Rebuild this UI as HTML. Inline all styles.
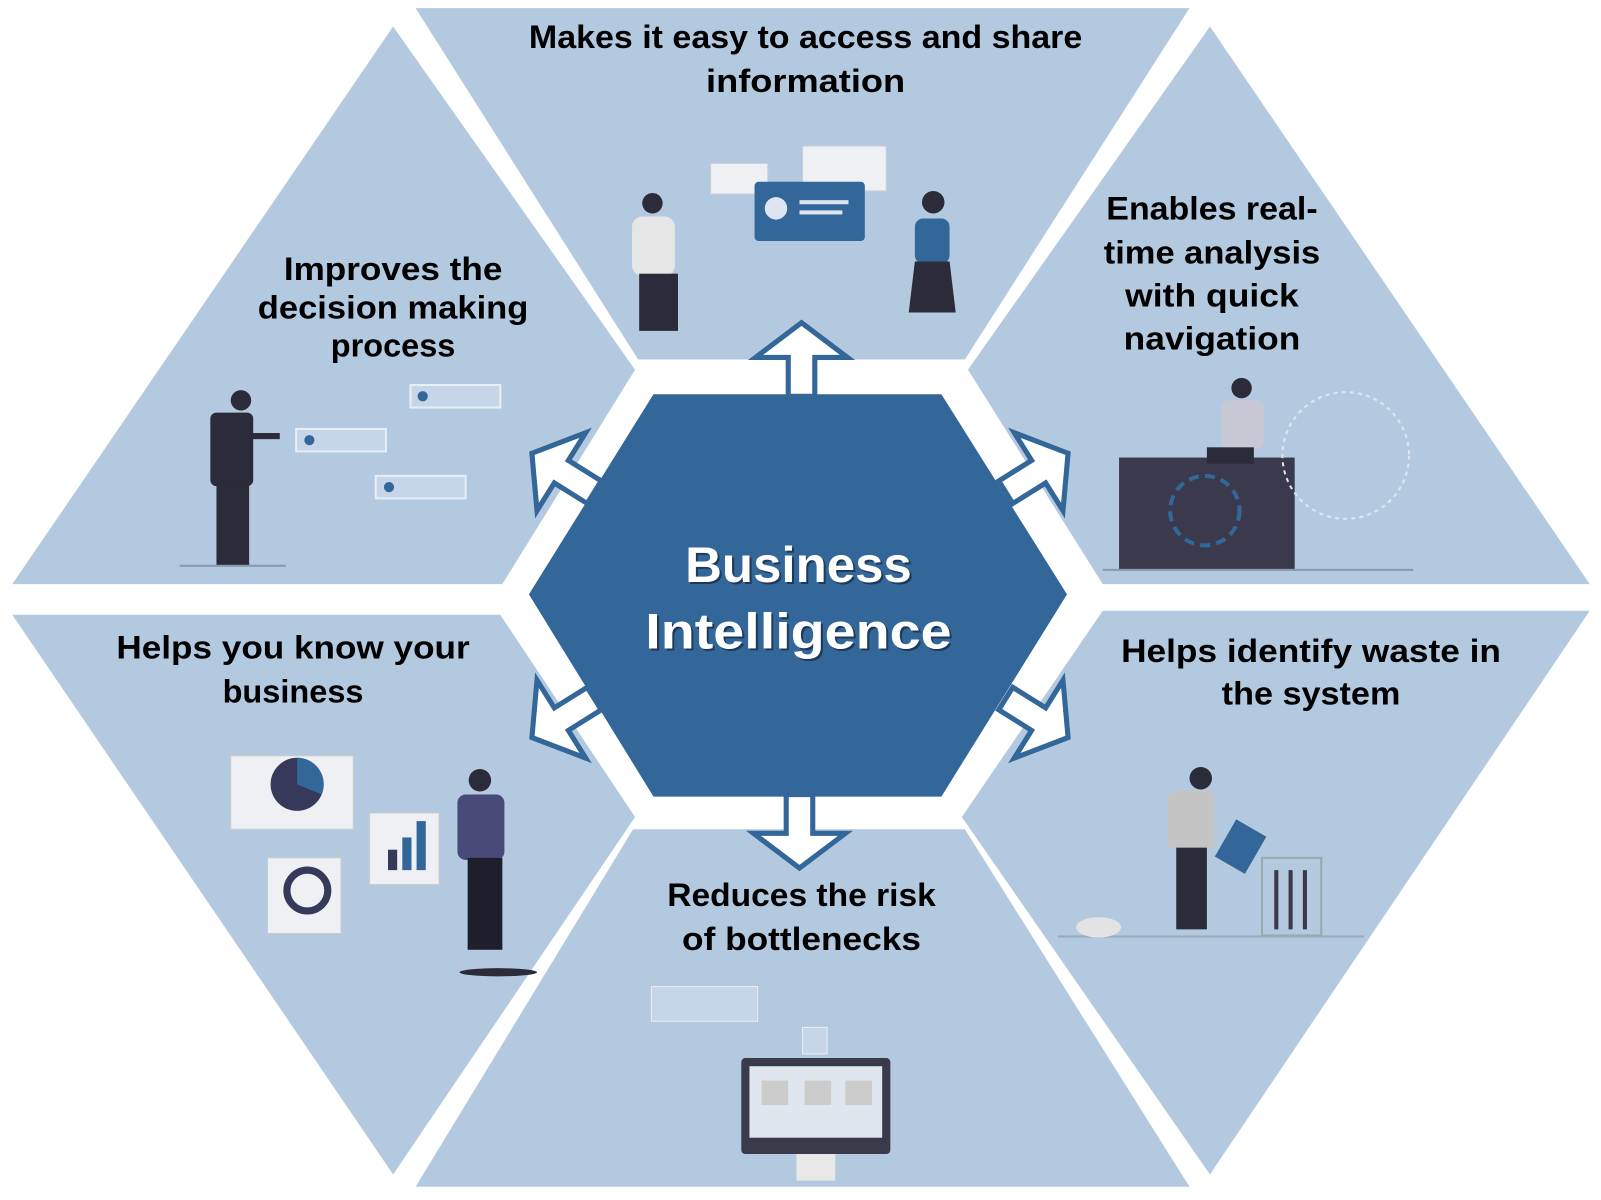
<!DOCTYPE html>
<html><head><meta charset="utf-8"><style>
html,body{margin:0;padding:0;background:#fff;width:1601px;height:1200px;overflow:hidden}
svg{display:block}
.t{font-family:"Liberation Sans",sans-serif;font-weight:bold;font-size:32px;fill:#000;text-anchor:middle}
.c{font-family:"Liberation Sans",sans-serif;font-weight:bold;font-size:49px;fill:#fff;text-anchor:middle}
</style></head><body>
<svg width="1601" height="1200" viewBox="0 0 1568 1175" preserveAspectRatio="none" xmlns="http://www.w3.org/2000/svg">
<defs>
<polygon id="arr" points="-13,0 -13,-38 -45,-38 0,-72 45,-38 13,-38 13,0" fill="#fff" stroke="#336699" stroke-width="5" stroke-linejoin="miter"/>
</defs>
<g fill="#b3c9df">
<polygon points="407,8 1165,8 945,352 625,352"/>
<polygon points="385,26 622,362 492,572 12,572"/>
<polygon points="1185,26 1557,572 1080,572 948,362"/>
<polygon points="12,602 490,602 622,800 385,1150"/>
<polygon points="1080,598 1557,598 1185,1150 942,800"/>
<polygon points="620,812 945,812 1165,1162 407,1162"/>
</g>
<g>
<rect x="696" y="160" width="56" height="30" fill="#eef0f3" stroke="#ccd" />
<rect x="786" y="143" width="82" height="44" fill="#eef0f3" stroke="#ccd"/>
<rect x="739" y="178" width="108" height="58" rx="4" fill="#336699"/>
<circle cx="760" cy="204" r="11" fill="#dde6f0"/>
<rect x="783" y="196" width="48" height="4" fill="#dde6f0"/><rect x="783" y="206" width="42" height="4" fill="#dde6f0"/>
<circle cx="639" cy="199" r="10" fill="#2b2b3a"/>
<rect x="619" y="212" width="42" height="58" rx="10" fill="#e6e6e6"/>
<rect x="626" y="268" width="38" height="56" fill="#2b2b3a"/>
<circle cx="914" cy="198" r="11" fill="#2b2b3a"/>
<rect x="896" y="214" width="34" height="44" rx="8" fill="#336699"/>
<polygon points="896,256 930,256 936,306 890,306" fill="#2b2b3a"/>
<circle cx="236" cy="392" r="10" fill="#2b2b3a"/>
<rect x="206" y="404" width="42" height="72" rx="6" fill="#2b2b3a"/>
<rect x="246" y="424" width="28" height="6" fill="#2b2b3a"/>
<rect x="212" y="474" width="32" height="80" fill="#2b2b3a"/>
<rect x="176" y="553" width="104" height="2" fill="#8899aa"/>
<rect x="290" y="420" width="88" height="22" fill="#c6d6e8" stroke="#e6eef6" stroke-width="2"/>
<rect x="402" y="377" width="88" height="22" fill="#c6d6e8" stroke="#e6eef6" stroke-width="2"/>
<rect x="368" y="466" width="88" height="22" fill="#c6d6e8" stroke="#e6eef6" stroke-width="2"/>
<circle cx="303" cy="431" r="5" fill="#336699"/><circle cx="414" cy="388" r="5" fill="#336699"/><circle cx="381" cy="477" r="5" fill="#336699"/>
<rect x="1096" y="448" width="172" height="110" fill="#3a3a4c"/>
<circle cx="1180" cy="500" r="34" fill="none" stroke="#336699" stroke-width="4" stroke-dasharray="10 6"/>
<circle cx="1318" cy="446" r="62" fill="none" stroke="#dde6f0" stroke-width="2" stroke-dasharray="4 4"/>
<circle cx="1216" cy="380" r="10" fill="#2b2b3a"/>
<rect x="1196" y="392" width="42" height="48" rx="8" fill="#c8c8d4"/>
<rect x="1182" y="438" width="46" height="16" fill="#2b2b3a"/>
<rect x="1080" y="557" width="304" height="2" fill="#8899aa"/>
<rect x="226" y="740" width="120" height="72" fill="#eef0f3" stroke="#ccc"/>
<circle cx="291" cy="768" r="26" fill="#36395a"/>
<path d="M291,768 L291,742 A26,26 0 0 1 315,778 Z" fill="#336699"/>
<rect x="262" y="840" width="72" height="74" fill="#eef0f3" stroke="#ccc"/>
<circle cx="301" cy="872" r="20" fill="none" stroke="#36395a" stroke-width="7"/>
<rect x="362" y="796" width="68" height="70" fill="#eef0f3" stroke="#ccc"/>
<rect x="380" y="832" width="9" height="20" fill="#36395a"/><rect x="394" y="820" width="9" height="32" fill="#336699"/><rect x="408" y="804" width="9" height="48" fill="#336699"/>
<circle cx="470" cy="764" r="11" fill="#2b2b3a"/>
<rect x="448" y="778" width="46" height="64" rx="8" fill="#4a4a7a"/>
<rect x="458" y="840" width="34" height="90" fill="#1e1e2c"/>
<ellipse cx="488" cy="952" rx="38" ry="4" fill="#2b2b3a"/>
<circle cx="1176" cy="762" r="11" fill="#2b2b3a"/>
<rect x="1144" y="774" width="46" height="58" rx="8" fill="#c4c4c4"/>
<rect x="1152" y="830" width="30" height="80" fill="#2b2b3a"/>
<rect x="1198" y="808" width="34" height="42" fill="#336699" transform="rotate(30 1215 829)"/>
<rect x="1236" y="840" width="58" height="76" fill="none" stroke="#9aa" stroke-width="2"/>
<rect x="1248" y="852" width="4" height="58" fill="#3a3a4c"/><rect x="1262" y="852" width="4" height="58" fill="#3a3a4c"/><rect x="1276" y="852" width="4" height="58" fill="#3a3a4c"/>
<rect x="1036" y="916" width="300" height="2" fill="#9aaabb"/>
<ellipse cx="1076" cy="908" rx="22" ry="10" fill="#e3e3e3"/>
<rect x="726" y="1036" width="146" height="94" rx="4" fill="#3a3a4c"/>
<rect x="734" y="1044" width="130" height="70" fill="#e0e6ee"/>
<rect x="746" y="1058" width="26" height="24" fill="#ccc"/><rect x="788" y="1058" width="26" height="24" fill="#ccc"/><rect x="828" y="1058" width="26" height="24" fill="#ccc"/>
<rect x="780" y="1130" width="38" height="26" fill="#e8e8e8"/>
<rect x="786" y="1006" width="24" height="26" fill="#c6d6e8" stroke="#e6eef6"/>
<rect x="638" y="966" width="104" height="34" fill="#c6d6e8" stroke="#e6eef6"/>
</g>
<polygon points="640,386 922,386 1045,582 922,780 640,780 518,582" fill="#336699"/>
<use href="#arr" transform="translate(785,388)"/>
<use href="#arr" transform="translate(783,778) rotate(180)"/>
<use href="#arr" transform="translate(582,482) rotate(-58)"/>
<use href="#arr" transform="translate(985,482) rotate(58)"/>
<use href="#arr" transform="translate(582,684) rotate(-122)"/>
<use href="#arr" transform="translate(985,684) rotate(122)"/>
<g>
<text class="c" x="784" y="572" textLength="222" lengthAdjust="spacingAndGlyphs" style="fill:#1e3a5a">Business</text>
<text class="c" x="782" y="570" textLength="222" lengthAdjust="spacingAndGlyphs">Business</text>
<text class="c" x="784" y="637" textLength="300" lengthAdjust="spacingAndGlyphs" style="fill:#1e3a5a">Intelligence</text>
<text class="c" x="782" y="635" textLength="300" lengthAdjust="spacingAndGlyphs">Intelligence</text>
</g>
<g>
<text class="t" x="789" y="47" textLength="542" lengthAdjust="spacingAndGlyphs">Makes it easy to access and share</text>
<text class="t" x="789" y="90" textLength="195" lengthAdjust="spacingAndGlyphs">information</text>
<text class="t" x="385" y="274" textLength="214" lengthAdjust="spacingAndGlyphs">Improves the</text>
<text class="t" x="385" y="312" textLength="265" lengthAdjust="spacingAndGlyphs">decision making</text>
<text class="t" x="385" y="349" textLength="122" lengthAdjust="spacingAndGlyphs">process</text>
<text class="t" x="1187" y="215" textLength="207" lengthAdjust="spacingAndGlyphs">Enables real-</text>
<text class="t" x="1187" y="258" textLength="212" lengthAdjust="spacingAndGlyphs">time analysis</text>
<text class="t" x="1187" y="300" textLength="170" lengthAdjust="spacingAndGlyphs">with quick</text>
<text class="t" x="1187" y="342" textLength="173" lengthAdjust="spacingAndGlyphs">navigation</text>
<text class="t" x="287" y="645" textLength="346" lengthAdjust="spacingAndGlyphs">Helps you know your</text>
<text class="t" x="287" y="688" textLength="138" lengthAdjust="spacingAndGlyphs">business</text>
<text class="t" x="1284" y="648" textLength="372" lengthAdjust="spacingAndGlyphs">Helps identify waste in</text>
<text class="t" x="1284" y="690" textLength="175" lengthAdjust="spacingAndGlyphs">the system</text>
<text class="t" x="785" y="887" textLength="263" lengthAdjust="spacingAndGlyphs">Reduces the risk</text>
<text class="t" x="785" y="930" textLength="234" lengthAdjust="spacingAndGlyphs">of bottlenecks</text>
</g>
</svg>
</body></html>
